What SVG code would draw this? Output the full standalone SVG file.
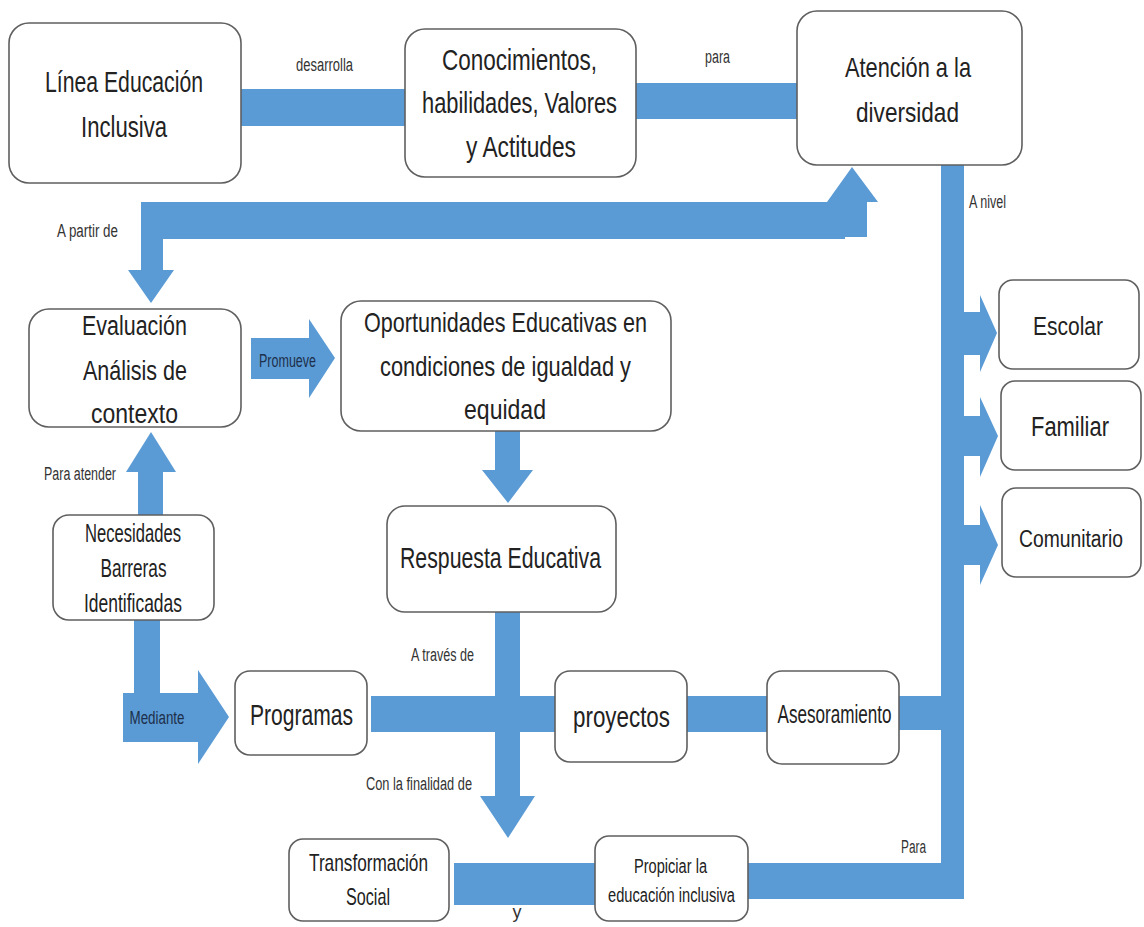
<svg xmlns="http://www.w3.org/2000/svg" width="1144" height="927" viewBox="0 0 1144 927">
<style>
.bg{fill:#ffffff}
.box{fill:#ffffff;stroke:#5f5f5f;stroke-width:1.6}
.c{fill:#5b9bd5}
.t{font-family:"Liberation Sans",Arial,sans-serif;fill:#222222;text-anchor:middle}
.lb{font-family:"Liberation Sans",Arial,sans-serif;fill:#333333;font-size:18px;text-anchor:middle}
.dk{fill:#1d2f4a}
</style>
<rect class="bg" x="0" y="0" width="1144" height="927"/>

<g id="connectors">
  <rect class="c" x="241" y="89" width="164" height="37"/>
  <rect class="c" x="636" y="83" width="161" height="36"/>
  <rect class="c" x="141" y="202" width="704" height="37"/>
  <path class="c" d="M840,237 L840,202 L827,202 L852,167 L878,202 L867,202 L867,237 Z"/>
  <path class="c" d="M141,239 L163,239 L163,270 L174,270 L151,303 L128,270 L141,270 Z"/>
  <rect class="c" x="941" y="165" width="23" height="734"/>
  <path class="c" d="M964,312 L980,312 L980,295 L997,333 L980,372 L980,355 L964,355 Z"/>
  <path class="c" d="M964,416 L980,416 L980,397 L998,436 L980,477 L980,456 L964,456 Z"/>
  <path class="c" d="M964,525 L980,525 L980,505 L998,545 L980,585 L980,565 L964,565 Z"/>
  <path class="c" d="M251,338 L309,338 L309,319 L335,358 L309,398 L309,379 L251,379 Z"/>
  <path class="c" d="M495,431 L520,431 L520,470 L533,470 L508,503 L482,470 L495,470 Z"/>
  <path class="c" d="M138,515 L138,472 L126,472 L151,432 L176,472 L163,472 L163,515 Z"/>
  <rect class="c" x="134" y="620" width="26" height="75"/>
  <path class="c" d="M123,693 L198,693 L198,670 L229,717 L198,764 L198,742 L123,742 Z"/>
  <rect class="c" x="371" y="696" width="184" height="36"/>
  <path class="c" d="M495,612 L520,612 L520,796 L535,796 L508,838 L480,796 L495,796 Z"/>
  <rect class="c" x="687" y="696" width="80" height="36"/>
  <rect class="c" x="899" y="696" width="65" height="34"/>
  <rect class="c" x="454" y="863" width="141" height="42"/>
  <rect class="c" x="748" y="863" width="216" height="36"/>
  <text class="lb" x="324.5" y="71" textLength="57" lengthAdjust="spacingAndGlyphs">desarrolla</text>
  <text class="lb" x="717.5" y="63" textLength="25" lengthAdjust="spacingAndGlyphs">para</text>
  <text class="lb" x="87.5" y="237" textLength="61" lengthAdjust="spacingAndGlyphs">A partir de</text>
  <text class="lb" x="987.5" y="208" textLength="37" lengthAdjust="spacingAndGlyphs">A nivel</text>
  <text class="lb dk" x="287.5" y="367" textLength="57" lengthAdjust="spacingAndGlyphs">Promueve</text>
  <text class="lb" x="80" y="480" textLength="72" lengthAdjust="spacingAndGlyphs">Para atender</text>
  <text class="lb dk" x="157" y="724" textLength="55" lengthAdjust="spacingAndGlyphs">Mediante</text>
  <text class="lb" x="442.5" y="661" textLength="63" lengthAdjust="spacingAndGlyphs">A través de</text>
  <text class="lb" x="419" y="790" textLength="106" lengthAdjust="spacingAndGlyphs">Con la finalidad de</text>
  <text class="lb" x="517" y="918" font-size="16">y</text>
  <text class="lb" x="913.5" y="853" textLength="25" lengthAdjust="spacingAndGlyphs">Para</text>
</g>

<g id="n-linea">
  <rect class="box" x="9" y="23" width="232" height="160" rx="20"/>
  <text class="t" font-size="29" x="124" y="92" textLength="158" lengthAdjust="spacingAndGlyphs">Línea Educación</text>
  <text class="t" font-size="29" x="124" y="137" textLength="86" lengthAdjust="spacingAndGlyphs">Inclusiva</text>
</g>
<g id="n-conocimientos">
  <rect class="box" x="405" y="29" width="231" height="148" rx="20"/>
  <text class="t" font-size="29" x="519.5" y="70" textLength="155" lengthAdjust="spacingAndGlyphs">Conocimientos,</text>
  <text class="t" font-size="29" x="519.5" y="113" textLength="195" lengthAdjust="spacingAndGlyphs">habilidades, Valores</text>
  <text class="t" font-size="29" x="521" y="157" textLength="110" lengthAdjust="spacingAndGlyphs">y Actitudes</text>
</g>
<g id="n-atencion">
  <rect class="box" x="797" y="11" width="225" height="154" rx="20"/>
  <text class="t" font-size="28" x="908" y="77" textLength="126" lengthAdjust="spacingAndGlyphs">Atención a la</text>
  <text class="t" font-size="28" x="907.5" y="122" textLength="103" lengthAdjust="spacingAndGlyphs">diversidad</text>
</g>
<g id="n-evaluacion">
  <rect class="box" x="29" y="309" width="212" height="118" rx="20"/>
  <text class="t" font-size="27" x="134.5" y="335" textLength="105" lengthAdjust="spacingAndGlyphs">Evaluación</text>
  <text class="t" font-size="27" x="135" y="380" textLength="104" lengthAdjust="spacingAndGlyphs">Análisis de</text>
  <text class="t" font-size="27" x="134.5" y="423" textLength="87" lengthAdjust="spacingAndGlyphs">contexto</text>
</g>
<g id="n-oportunidades">
  <rect class="box" x="341" y="301" width="330" height="130" rx="20"/>
  <text class="t" font-size="28" x="505.5" y="332" textLength="283" lengthAdjust="spacingAndGlyphs">Oportunidades Educativas en</text>
  <text class="t" font-size="28" x="505.5" y="376" textLength="251" lengthAdjust="spacingAndGlyphs">condiciones de igualdad y</text>
  <text class="t" font-size="28" x="505" y="419" textLength="82" lengthAdjust="spacingAndGlyphs">equidad</text>
</g>
<g id="n-respuesta">
  <rect class="box" x="387" y="506" width="229" height="106" rx="18"/>
  <text class="t" font-size="29" x="500.5" y="568" textLength="201" lengthAdjust="spacingAndGlyphs">Respuesta Educativa</text>
</g>
<g id="n-necesidades">
  <rect class="box" x="53" y="515" width="161" height="105" rx="16"/>
  <text class="t" font-size="25" x="133" y="542" textLength="96" lengthAdjust="spacingAndGlyphs">Necesidades</text>
  <text class="t" font-size="25" x="133.5" y="577" textLength="66" lengthAdjust="spacingAndGlyphs">Barreras</text>
  <text class="t" font-size="25" x="133" y="612" textLength="98" lengthAdjust="spacingAndGlyphs">Identificadas</text>
</g>
<g id="n-programas">
  <rect class="box" x="235" y="671" width="132" height="84" rx="15"/>
  <text class="t" font-size="30" x="301.5" y="725" textLength="103" lengthAdjust="spacingAndGlyphs">Programas</text>
</g>
<g id="n-proyectos">
  <rect class="box" x="555" y="671" width="132" height="91" rx="15"/>
  <text class="t" font-size="29" x="621.5" y="727" textLength="97" lengthAdjust="spacingAndGlyphs">proyectos</text>
</g>
<g id="n-asesoramiento">
  <rect class="box" x="767" y="671" width="132" height="93" rx="15"/>
  <text class="t" font-size="25" x="834.5" y="723" textLength="114" lengthAdjust="spacingAndGlyphs">Asesoramiento</text>
</g>
<g id="n-transformacion">
  <rect class="box" x="289" y="839" width="160" height="82" rx="14"/>
  <text class="t" font-size="24" x="368.5" y="871" textLength="119" lengthAdjust="spacingAndGlyphs">Transformación</text>
  <text class="t" font-size="24" x="368" y="905" textLength="44" lengthAdjust="spacingAndGlyphs">Social</text>
</g>
<g id="n-propiciar">
  <rect class="box" x="595" y="836" width="153" height="85" rx="14"/>
  <text class="t" font-size="20" x="670.5" y="873" textLength="73" lengthAdjust="spacingAndGlyphs">Propiciar la</text>
  <text class="t" font-size="20" x="671.5" y="902" textLength="127" lengthAdjust="spacingAndGlyphs">educación inclusiva</text>
</g>
<g id="n-escolar">
  <rect class="box" x="999" y="280" width="140" height="89" rx="14"/>
  <text class="t" font-size="26" x="1068" y="335" textLength="70" lengthAdjust="spacingAndGlyphs">Escolar</text>
</g>
<g id="n-familiar">
  <rect class="box" x="1001" y="381" width="140" height="89" rx="14"/>
  <text class="t" font-size="27" x="1070" y="436" textLength="78" lengthAdjust="spacingAndGlyphs">Familiar</text>
</g>
<g id="n-comunitario">
  <rect class="box" x="1002" y="488" width="139" height="89" rx="14"/>
  <text class="t" font-size="23" x="1071" y="547" textLength="104" lengthAdjust="spacingAndGlyphs">Comunitario</text>
</g>
</svg>
